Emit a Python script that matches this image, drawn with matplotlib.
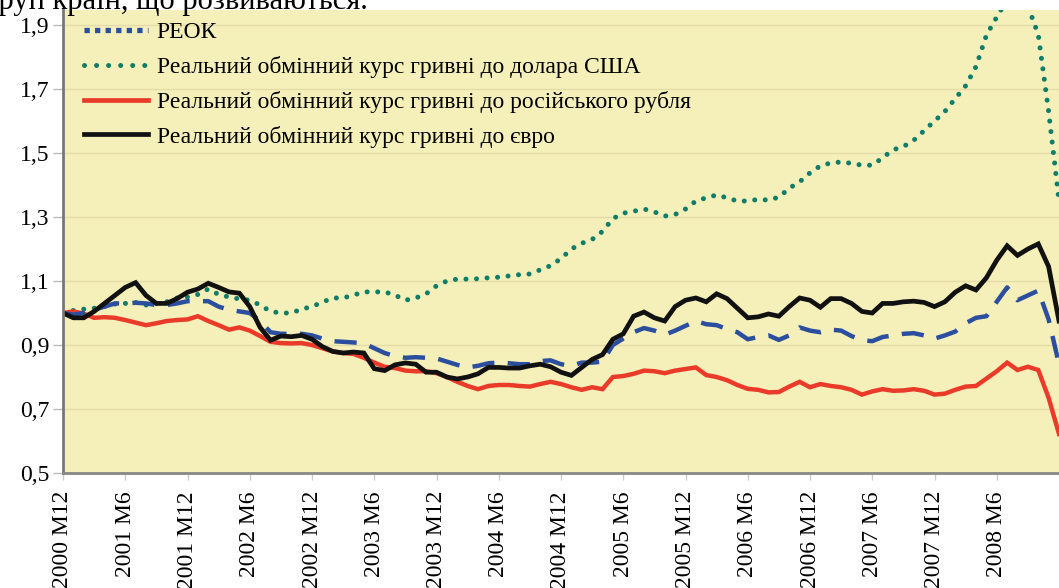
import numpy as np
import matplotlib
matplotlib.use("Agg")
import matplotlib.pyplot as plt
from matplotlib.lines import Line2D

plt.rcParams['font.family'] = ['Liberation Serif', 'DejaVu Serif']

# Місячні дані, 2000 M12 ... 2008 M12
months = np.arange(97)

reok = [1.0, 0.995, 1.0, 1.01, 1.02, 1.03, 1.03, 1.032, 1.03, 1.025,
        1.025, 1.03, 1.037, 1.037, 1.037, 1.02, 1.01, 1.005, 1.0, 0.975,
        0.94, 0.935, 0.935, 0.935, 0.93, 0.92, 0.912, 0.91, 0.908, 0.905,
        0.89, 0.875, 0.865, 0.86, 0.862, 0.86, 0.858, 0.848, 0.838, 0.83,
        0.835, 0.843, 0.845, 0.843, 0.84, 0.84, 0.85, 0.852, 0.84, 0.835,
        0.845, 0.845, 0.848, 0.9, 0.92, 0.94, 0.953, 0.945, 0.932, 0.945,
        0.96, 0.975, 0.965, 0.962, 0.95, 0.94, 0.918, 0.925, 0.93, 0.916,
        0.93, 0.955, 0.945, 0.94, 0.948, 0.945, 0.928, 0.915, 0.912, 0.925,
        0.93, 0.935, 0.937, 0.93, 0.92, 0.93, 0.942, 0.968, 0.985, 0.99,
        1.035, 1.08, 1.04, 1.055, 1.07, 0.98, 0.84]

usd = [1.0, 1.008, 1.012, 1.015, 1.02, 1.028, 1.03, 1.033, 1.025, 1.03,
       1.035, 1.047, 1.05, 1.058, 1.075, 1.058, 1.05, 1.044, 1.04, 1.025,
       1.005, 1.0, 1.0, 1.012, 1.02, 1.034, 1.047, 1.047, 1.056, 1.066,
       1.066, 1.066, 1.056, 1.04, 1.047, 1.06, 1.085, 1.1, 1.106, 1.106,
       1.107, 1.11, 1.112, 1.116, 1.12, 1.122, 1.135, 1.148, 1.17, 1.2,
       1.218, 1.23, 1.255, 1.295, 1.312, 1.318, 1.325, 1.316, 1.303, 1.308,
       1.325, 1.35, 1.36, 1.369, 1.36, 1.35, 1.35, 1.355, 1.353, 1.362,
       1.39, 1.41, 1.438, 1.46, 1.469, 1.472, 1.468, 1.462, 1.462, 1.485,
       1.51, 1.52, 1.54, 1.57, 1.6, 1.63, 1.67, 1.71, 1.77, 1.868,
       1.925, 1.98, 2.0, 1.96, 1.87, 1.63, 1.35]

rub = [1.0, 1.005, 0.998, 0.985, 0.987, 0.985, 0.978, 0.97, 0.962, 0.968,
       0.975, 0.978, 0.98, 0.99, 0.975, 0.962, 0.948, 0.955, 0.945, 0.928,
       0.91, 0.906, 0.905, 0.906, 0.9, 0.89, 0.88, 0.875, 0.872, 0.86,
       0.845, 0.832, 0.828, 0.82, 0.818, 0.818, 0.812, 0.8, 0.785, 0.772,
       0.762, 0.772, 0.775, 0.775, 0.772, 0.77, 0.778, 0.785, 0.778, 0.768,
       0.76, 0.768, 0.762, 0.8, 0.803, 0.81, 0.82, 0.818, 0.812, 0.82,
       0.825, 0.83, 0.806, 0.8, 0.79, 0.775, 0.763, 0.76, 0.752, 0.753,
       0.77, 0.785, 0.768, 0.778, 0.772, 0.768, 0.76, 0.745, 0.755, 0.762,
       0.757, 0.758, 0.762, 0.757, 0.745, 0.748, 0.76, 0.77, 0.772, 0.795,
       0.818, 0.845, 0.822, 0.832, 0.822, 0.735, 0.622]

eur = [1.0, 0.985, 0.985, 1.005, 1.03, 1.055, 1.08, 1.095, 1.055, 1.03,
       1.03, 1.045, 1.065, 1.075, 1.093, 1.08, 1.066, 1.062, 1.02, 0.955,
       0.915, 0.928, 0.926, 0.93, 0.918, 0.895, 0.88, 0.875, 0.878, 0.875,
       0.826, 0.82, 0.838, 0.844, 0.84, 0.815, 0.815, 0.8, 0.794, 0.8,
       0.81, 0.83, 0.83, 0.828, 0.828, 0.835, 0.84, 0.832, 0.815, 0.805,
       0.83, 0.855, 0.87, 0.918, 0.935, 0.99, 1.003, 0.985, 0.975, 1.02,
       1.04, 1.047, 1.035, 1.06, 1.045, 1.015, 0.985, 0.988, 0.997, 0.99,
       1.02, 1.047, 1.04, 1.018, 1.045, 1.045, 1.03, 1.005, 1.0, 1.03,
       1.03, 1.035, 1.037, 1.033, 1.02, 1.035, 1.065, 1.085, 1.072, 1.11,
       1.165, 1.21, 1.18, 1.2, 1.216, 1.145, 0.975]

tick_pos = np.arange(0, 96, 6)
tick_labels = ['2000 M12', '2001 M6', '2001 M12', '2002 M6', '2002 M12',
               '2003 M6', '2003 M12', '2004 M6', '2004 M12', '2005 M6',
               '2005 M12', '2006 M6', '2006 M12', '2007 M6', '2007 M12',
               '2008 M6']
y_ticks = [0.5, 0.7, 0.9, 1.1, 1.3, 1.5, 1.7, 1.9]
y_labels = ['0,5', '0,7', '0,9', '1,1', '1,3', '1,5', '1,7', '1,9']

names = ['РЕОК',
         'Реальний обмінний курс гривні до долара США',
         'Реальний обмінний курс гривні до російського рубля',
         'Реальний обмінний курс гривні до євро']

c_blue = '#2b4f9e'
c_green = '#0f7d68'
c_red = '#ea3b2a'
c_black = '#111111'

fs = 17

fig = plt.figure(figsize=(10.59, 5.88), dpi=100)
ax = fig.add_axes([63 / 1059, 1 - 473 / 588, 1 - 63 / 1059, 463 / 588])
ax.set_facecolor('#f5efb9')

ax.plot(months, usd, color=c_green, lw=3.6, linestyle=(0, (0.01, 2.1)),
        dash_capstyle='round')
ax.plot(months, rub, color=c_red, lw=3.2, solid_joinstyle='miter')
ax.plot(months, reok, color=c_blue, lw=3.2, linestyle=(0, (5, 3)))
ax.plot(months, eur, color=c_black, lw=3.4, solid_joinstyle='miter')

ax.set_xlim(0, 96)
ax.set_ylim(0.5, 1.947)
ax.set_yticks(y_ticks)
ax.set_yticklabels(y_labels)
ax.set_xticks(tick_pos)
ax.set_xticklabels(tick_labels, rotation=90)
ax.tick_params(axis='y', length=7, width=1, color='#bbbbbb', pad=3,
               labelsize=fs)
ax.tick_params(axis='x', length=5, width=1, color='#cccccc', pad=8,
               labelsize=fs)
ax.grid(axis='y', color='#e3dca6', lw=1)
ax.set_axisbelow(True)

for s in ['top', 'right']:
    ax.spines[s].set_visible(False)
ax.spines['left'].set_color('#777777')
ax.spines['left'].set_linewidth(2)
ax.spines['bottom'].set_color('#888888')
ax.spines['bottom'].set_linewidth(2)

handles = [
    Line2D([], [], color=c_blue, lw=3.8, linestyle=(0, (1, 1)),
           dash_capstyle='butt'),
    Line2D([], [], color=c_green, lw=3.6, linestyle=(0, (0.01, 2.4)),
           dash_capstyle='round'),
    Line2D([], [], color=c_red, lw=3.4),
    Line2D([], [], color=c_black, lw=3.4),
]
ax.legend(handles, names, loc='upper left', frameon=False, fontsize=fs,
          handlelength=2.75, handletextpad=0.35, labelspacing=0.54,
          borderaxespad=0.3, bbox_to_anchor=(0.004, 1.01))

fig.text(-14 / 1059, 1 - 9 / 588, 'груп країн, що розвиваються.',
         fontsize=22, ha='left', va='baseline')

fig.savefig('out.png', dpi=100)
